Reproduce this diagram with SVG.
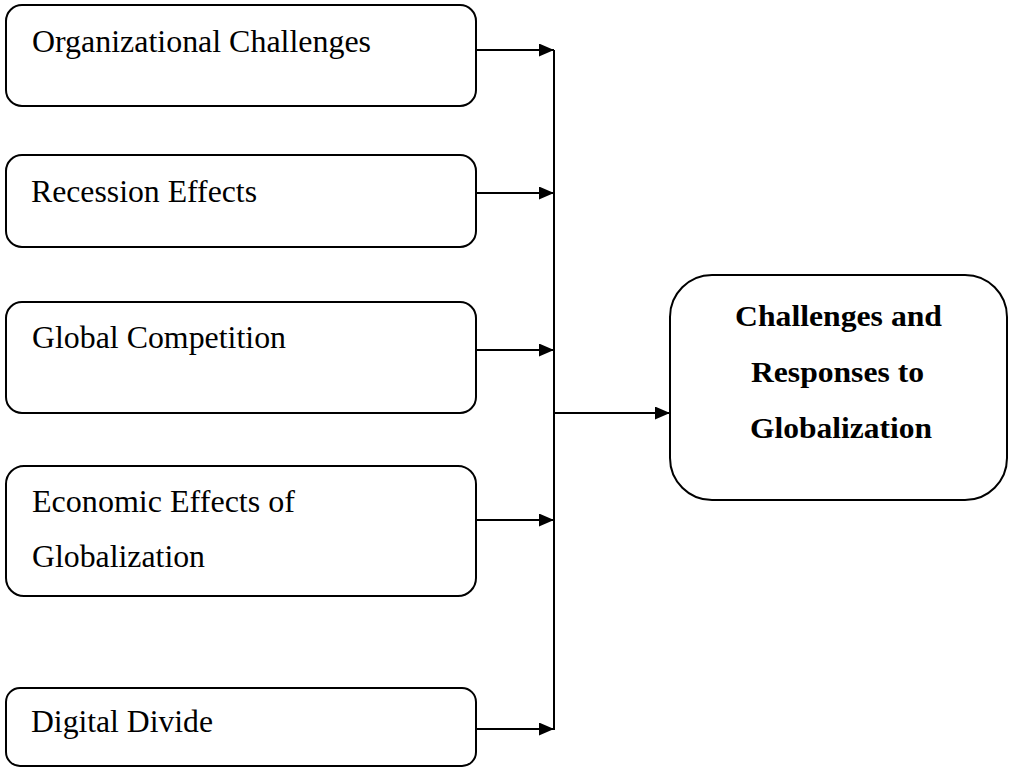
<svg xmlns="http://www.w3.org/2000/svg" width="1010" height="768" viewBox="0 0 1010 768">
<style>
.box{fill:#fff;stroke:#000;stroke-width:2}
.t{font-family:"Liberation Serif","Times New Roman",serif;font-size:31px;fill:#000}
.b{font-family:"Liberation Serif","Times New Roman",serif;font-size:30px;font-weight:bold;fill:#000}
.c{stroke:#000;stroke-width:2;fill:none}
</style>
<defs>
<marker id="ah" markerWidth="15" markerHeight="13" refX="15" refY="6.5" orient="auto" markerUnits="userSpaceOnUse">
<path d="M0,0 L15,6.5 L0,13 Z" fill="#000"/>
</marker>
</defs>
<rect width="1010" height="768" fill="#fff"/>
<g id="n1"><rect class="box" x="6" y="5" width="470" height="101" rx="16"/><text class="t" x="32" y="52" textLength="339" lengthAdjust="spacingAndGlyphs">Organizational Challenges</text></g>
<g id="n2"><rect class="box" x="6" y="155" width="470" height="92" rx="16"/><text class="t" x="31" y="202" textLength="226" lengthAdjust="spacingAndGlyphs">Recession Effects</text></g>
<g id="n3"><rect class="box" x="6" y="302" width="470" height="111" rx="16"/><text class="t" x="32" y="348" textLength="254" lengthAdjust="spacingAndGlyphs">Global Competition</text></g>
<g id="n4"><rect class="box" x="6" y="466" width="470" height="130" rx="18"/><text class="t" x="32" y="512" textLength="263" lengthAdjust="spacingAndGlyphs">Economic Effects of</text><text class="t" x="32" y="567" textLength="173" lengthAdjust="spacingAndGlyphs">Globalization</text></g>
<g id="n5"><rect class="box" x="6" y="688" width="470" height="78" rx="14"/><text class="t" x="31" y="732" textLength="182" lengthAdjust="spacingAndGlyphs">Digital Divide</text></g>
<g id="n6"><rect class="box" x="670" y="275" width="337" height="225" rx="42"/><text class="b" x="735" y="326" textLength="207" lengthAdjust="spacingAndGlyphs">Challenges and</text><text class="b" x="751" y="382" textLength="173" lengthAdjust="spacingAndGlyphs">Responses to</text><text class="b" x="750" y="438" textLength="182" lengthAdjust="spacingAndGlyphs">Globalization</text></g>
<g id="connectors">
<line class="c" x1="554" y1="50" x2="554" y2="730"/>
<line class="c" x1="476" y1="50" x2="554" y2="50" marker-end="url(#ah)"/>
<line class="c" x1="476" y1="193" x2="554" y2="193" marker-end="url(#ah)"/>
<line class="c" x1="476" y1="350" x2="554" y2="350" marker-end="url(#ah)"/>
<line class="c" x1="476" y1="520" x2="554" y2="520" marker-end="url(#ah)"/>
<line class="c" x1="476" y1="729" x2="554" y2="729" marker-end="url(#ah)"/>
<line class="c" x1="554" y1="413" x2="670" y2="413" marker-end="url(#ah)"/>
</g>
</svg>
